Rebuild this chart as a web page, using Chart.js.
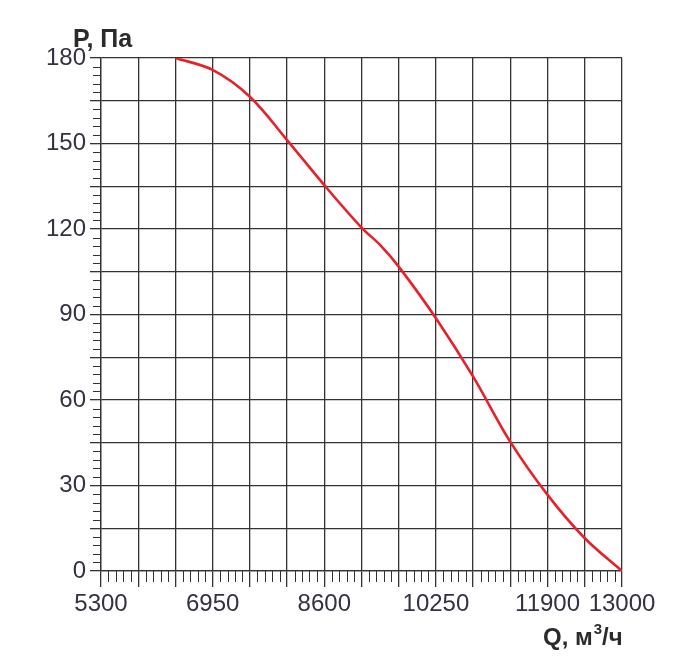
<!DOCTYPE html>
<html>
<head>
<meta charset="utf-8">
<script src="https://cdn.jsdelivr.net/npm/chart.js@4"></script>
<style>
    html, body { margin: 0; padding: 0; background: #fff; }
    #wrap { width: 700px; height: 670px; }
</style>
</head>
<body>
<div id="wrap"><canvas id="fan-chart" width="700" height="670"></canvas></div>
<script>
// Fan curve: flow Q (m3/h) vs pressure P (Pa)
const flowQ = [6400, 6950, 7500, 8050, 8600, 9150, 9420, 9700, 10250, 10800, 11350, 11900, 12450, 13000];
const pressureP = [180, 175.8, 166.4, 151.2, 135.4, 120.5, 114.5, 106.8, 88.7, 68.2, 45.3, 26.7, 11.5, 0];

const xLabels = [5300, 6950, 8600, 10250, 11900, 13000];
const yLabels = [0, 30, 60, 90, 120, 150, 180];

const X_MIN = 5300, X_MAX = 13000, X_GRID = 550, X_MINOR = 110;
const Y_MIN = 0, Y_MAX = 180, Y_GRID = 15, Y_MINOR = 3;

const FONT = '"Liberation Sans", Arial, sans-serif';
const LINE_COLOR = '#333333';

// Minor ticks and axis titles
const extrasPlugin = {
    id: 'extras',
    afterDraw(chart) {
        const ctx = chart.ctx;
        const xs = chart.scales.x;
        const ys = chart.scales.y;
        const area = chart.chartArea;

        ctx.save();
        ctx.strokeStyle = LINE_COLOR;
        ctx.lineWidth = 1;
        ctx.beginPath();
        for (let v = X_MIN; v <= X_MAX; v += X_MINOR) {
            if ((v - X_MIN) % X_GRID === 0) continue;
            const px = Math.round(xs.getPixelForValue(v)) + 0.5;
            ctx.moveTo(px, area.bottom);
            ctx.lineTo(px, area.bottom + 11);
        }
        for (let v = Y_MIN; v <= Y_MAX; v += Y_MINOR) {
            if (v % Y_GRID === 0) continue;
            const py = Math.round(ys.getPixelForValue(v)) + 0.5;
            ctx.moveTo(area.left - 8, py);
            ctx.lineTo(area.left, py);
        }
        ctx.stroke();

        // axis titles
        ctx.fillStyle = '#2b2b2b';
        ctx.textBaseline = 'alphabetic';
        ctx.textAlign = 'left';
        ctx.font = 'bold 25px ' + FONT;
        ctx.fillText('P, Па', 73, 47);

        ctx.font = 'bold 24px ' + FONT;
        const qText = 'Q, м';
        ctx.fillText(qText, 543, 645);
        const w = ctx.measureText(qText).width;
        ctx.font = 'bold 15px ' + FONT;
        ctx.fillText('3', 543 + w + 1, 634);
        const w3 = ctx.measureText('3').width;
        ctx.font = 'bold 24px ' + FONT;
        ctx.fillText('/ч', 543 + w + w3 + 1, 645);
        ctx.restore();
    }
};

function buildTicks(min, max, step) {
    const ticks = [];
    for (let v = min; v <= max; v += step) ticks.push({ value: v });
    return ticks;
}

const ctx = document.getElementById('fan-chart');
new Chart(ctx, {
    type: 'line',
    data: {
        datasets: [{
            label: 'P',
            data: flowQ.map((q, i) => ({ x: q, y: pressureP[i] })),
            borderColor: '#e8202a',
            borderWidth: 2.6,
            pointRadius: 0,
            fill: false,
            tension: 0.35
        }]
    },
    options: {
        responsive: false,
        animation: false,
        devicePixelRatio: 1,
        layout: { padding: { top: 58, right: 78, left: 0, bottom: 0 } },
        plugins: {
            legend: { display: false },
            tooltip: { enabled: false }
        },
        scales: {
            x: {
                type: 'linear',
                min: X_MIN,
                max: X_MAX,
                afterBuildTicks: scale => { scale.ticks = buildTicks(X_MIN, X_MAX, X_GRID); },
                afterFit: scale => { scale.height = 670 - 571; },
                border: { display: true, color: LINE_COLOR, width: 1.3 },
                grid: {
                    color: LINE_COLOR,
                    lineWidth: 1.3,
                    drawTicks: true,
                    tickLength: 16,
                    tickColor: LINE_COLOR
                },
                ticks: {
                    autoSkip: false,
                    maxRotation: 0,
                    padding: 3,
                    color: '#333340',
                    font: { family: FONT, size: 24 },
                    callback: value => xLabels.includes(value) ? String(value) : ''
                }
            },
            y: {
                type: 'linear',
                min: Y_MIN,
                max: Y_MAX,
                afterBuildTicks: scale => { scale.ticks = buildTicks(Y_MIN, Y_MAX, Y_GRID); },
                afterFit: scale => { scale.width = 101; },
                border: { display: true, color: LINE_COLOR, width: 1.3 },
                grid: {
                    color: LINE_COLOR,
                    lineWidth: 1.3,
                    drawTicks: true,
                    tickLength: 11,
                    tickColor: LINE_COLOR
                },
                ticks: {
                    autoSkip: false,
                    padding: 4,
                    color: '#333340',
                    font: { family: FONT, size: 24 },
                    callback: value => yLabels.includes(value) ? String(value) : ''
                }
            }
        }
    },
    plugins: [extrasPlugin]
});
</script>
</body>
</html>
